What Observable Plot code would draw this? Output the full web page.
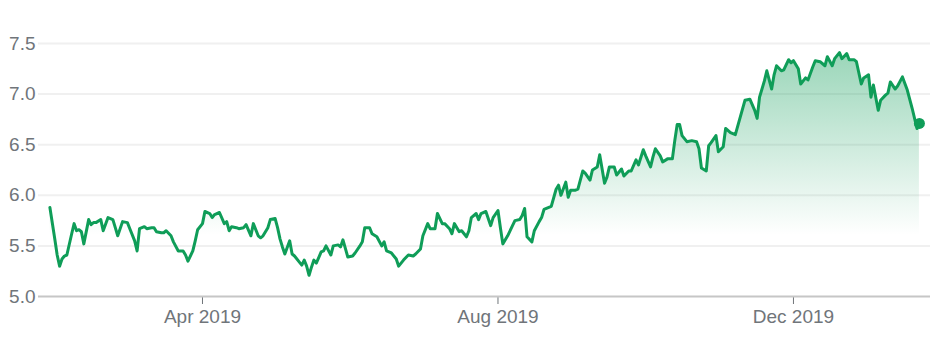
<!DOCTYPE html>
<html>
<head>
<meta charset="utf-8">
<script src="https://cdn.jsdelivr.net/npm/d3@7"></script>
<script src="https://cdn.jsdelivr.net/npm/@observablehq/plot@0.6"></script>
<style>
  html, body { margin: 0; padding: 0; background: #ffffff; }
  #chart svg { display: block; }
</style>
</head>
<body>
<div id="chart"></div>
<script>
// Trading dates
const dates = [
  "2019-01-28","2019-01-30","2019-01-31","2019-02-01","2019-02-02","2019-02-03","2019-02-04","2019-02-06","2019-02-07","2019-02-08",
  "2019-02-09","2019-02-10","2019-02-11","2019-02-13","2019-02-14","2019-02-15","2019-02-16","2019-02-18","2019-02-19","2019-02-21",
  "2019-02-23","2019-02-24","2019-02-25","2019-02-27","2019-03-01","2019-03-02","2019-03-04","2019-03-05","2019-03-06","2019-03-08",
  "2019-03-09","2019-03-11","2019-03-12","2019-03-13","2019-03-15","2019-03-16","2019-03-17","2019-03-19","2019-03-20","2019-03-22",
  "2019-03-24","2019-03-25","2019-03-26","2019-03-28","2019-03-29","2019-03-30","2019-04-01","2019-04-02","2019-04-04","2019-04-05",
  "2019-04-06","2019-04-08","2019-04-10","2019-04-11","2019-04-12","2019-04-13","2019-04-15","2019-04-16","2019-04-18","2019-04-19",
  "2019-04-21","2019-04-22","2019-04-24","2019-04-25","2019-04-26","2019-04-28","2019-04-29","2019-05-01","2019-05-02","2019-05-03",
  "2019-05-04","2019-05-05","2019-05-07","2019-05-08","2019-05-09","2019-05-11","2019-05-12","2019-05-13","2019-05-14","2019-05-15",
  "2019-05-16","2019-05-17","2019-05-18","2019-05-20","2019-05-21","2019-05-22","2019-05-24","2019-05-25","2019-05-27","2019-05-28",
  "2019-05-29","2019-05-31","2019-06-02","2019-06-03","2019-06-05","2019-06-06","2019-06-07","2019-06-09","2019-06-10","2019-06-12",
  "2019-06-14","2019-06-15","2019-06-16","2019-06-18","2019-06-20","2019-06-21","2019-06-23","2019-06-25","2019-06-27","2019-06-28",
  "2019-06-30","2019-07-01","2019-07-03","2019-07-04","2019-07-06","2019-07-07","2019-07-09","2019-07-10","2019-07-12","2019-07-13",
  "2019-07-14","2019-07-16","2019-07-17","2019-07-19","2019-07-20","2019-07-21","2019-07-23","2019-07-24","2019-07-25","2019-07-27",
  "2019-07-29","2019-07-30","2019-08-01","2019-08-02","2019-08-03","2019-08-05","2019-08-07","2019-08-08","2019-08-10","2019-08-11",
  "2019-08-12","2019-08-13","2019-08-15","2019-08-16","2019-08-18","2019-08-19","2019-08-20","2019-08-22","2019-08-23","2019-08-25",
  "2019-08-26","2019-08-27","2019-08-29","2019-08-30","2019-08-31","2019-09-02","2019-09-03","2019-09-05","2019-09-06","2019-09-08",
  "2019-09-09","2019-09-11","2019-09-12","2019-09-14","2019-09-15","2019-09-16","2019-09-18","2019-09-19","2019-09-21","2019-09-22",
  "2019-09-24","2019-09-25","2019-09-27","2019-09-28","2019-09-30","2019-10-01","2019-10-03","2019-10-04","2019-10-05","2019-10-07",
  "2019-10-08","2019-10-10","2019-10-12","2019-10-13","2019-10-14","2019-10-15","2019-10-16","2019-10-18","2019-10-20","2019-10-22",
  "2019-10-23","2019-10-24","2019-10-26","2019-10-27","2019-10-28","2019-10-30","2019-10-31","2019-11-02","2019-11-03","2019-11-05",
  "2019-11-07","2019-11-09","2019-11-11","2019-11-13","2019-11-15","2019-11-16","2019-11-17","2019-11-19","2019-11-20","2019-11-22",
  "2019-11-23","2019-11-24","2019-11-26","2019-11-27","2019-11-29","2019-11-30","2019-12-01","2019-12-03","2019-12-04","2019-12-06",
  "2019-12-07","2019-12-09","2019-12-10","2019-12-12","2019-12-14","2019-12-15","2019-12-17","2019-12-18","2019-12-20","2019-12-21",
  "2019-12-23","2019-12-24","2019-12-26","2019-12-27","2019-12-29","2019-12-30","2020-01-01","2020-01-02","2020-01-03","2020-01-05",
  "2020-01-06","2020-01-08","2020-01-09","2020-01-10","2020-01-12","2020-01-13","2020-01-15","2020-01-17","2020-01-19","2020-01-21",
  "2020-01-22"
];
// Prices
const values = [
  5.88,5.57,5.41,5.30,5.37,5.40,5.41,5.62,5.72,5.65,
  5.66,5.64,5.52,5.76,5.71,5.73,5.73,5.76,5.65,5.78,
  5.76,5.68,5.60,5.74,5.73,5.67,5.55,5.45,5.67,5.69,
  5.67,5.68,5.68,5.64,5.63,5.63,5.65,5.60,5.54,5.45,
  5.45,5.41,5.35,5.45,5.55,5.66,5.72,5.84,5.82,5.78,
  5.81,5.83,5.72,5.74,5.65,5.69,5.68,5.67,5.68,5.71,
  5.60,5.72,5.60,5.58,5.60,5.68,5.76,5.77,5.68,5.57,
  5.49,5.42,5.55,5.42,5.40,5.34,5.31,5.36,5.30,5.21,
  5.29,5.36,5.33,5.44,5.45,5.50,5.41,5.50,5.51,5.49,
  5.56,5.39,5.40,5.43,5.50,5.54,5.68,5.68,5.62,5.59,
  5.50,5.54,5.45,5.43,5.37,5.30,5.36,5.41,5.40,5.42,
  5.47,5.60,5.72,5.67,5.67,5.82,5.72,5.72,5.67,5.62,
  5.72,5.64,5.65,5.59,5.65,5.78,5.82,5.76,5.82,5.84,
  5.70,5.78,5.85,5.68,5.52,5.60,5.70,5.75,5.76,5.80,
  5.87,5.59,5.54,5.65,5.74,5.78,5.86,5.88,5.89,6.06,
  6.10,6.00,6.13,5.98,6.05,6.05,6.06,6.24,6.22,6.15,
  6.25,6.28,6.40,6.12,6.18,6.28,6.28,6.20,6.26,6.19,
  6.24,6.24,6.35,6.30,6.45,6.39,6.28,6.38,6.46,6.39,
  6.33,6.36,6.36,6.54,6.70,6.70,6.59,6.53,6.54,6.53,
  6.46,6.27,6.24,6.49,6.52,6.59,6.43,6.48,6.66,6.62,
  6.60,6.77,6.94,6.95,6.84,6.76,6.97,7.13,7.23,7.05,
  7.19,7.28,7.23,7.24,7.34,7.31,7.33,7.25,7.10,7.16,
  7.14,7.27,7.33,7.32,7.28,7.37,7.28,7.35,7.41,7.35,
  7.40,7.34,7.34,7.32,7.10,7.16,7.19,6.97,7.09,6.84,
  6.94,6.99,7.01,7.12,7.05,7.08,7.17,7.04,6.86,6.66,
  6.71
];
const yTicks = [5.0, 5.5, 6.0, 6.5, 7.0, 7.5];
const xTicks = ["2019-04-01", "2019-08-01", "2019-12-01"];
const xDomain = ["2019-01-23T07:00", "2020-01-26T14:00"];

const parse = s => new Date(s.length > 10 ? s + ":00Z" : s + "T00:00:00Z");
const data = dates.map((d, i) => ({date: parse(d), value: values[i]}));
const fmtMonth = d3.utcFormat("%b %Y");
const green = "#0f9d58";

const svg = Plot.plot({
  width: 939,
  height: 352,
  marginLeft: 38,
  marginRight: 9,
  marginTop: 43,
  marginBottom: 56,
  style: {
    fontFamily: "Arial, 'Liberation Sans', sans-serif",
    fontSize: "19px",
    color: "#70757a",
    background: "#ffffff"
  },
  x: {
    type: "utc",
    domain: xDomain.map(parse),
    ticks: xTicks.map(parse),
    tickFormat: d => fmtMonth(d),
    tickSize: 8,
    tickPadding: 5,
    label: null
  },
  y: {
    domain: [yTicks[0], yTicks[yTicks.length - 1]],
    ticks: yTicks,
    tickFormat: d3.format(".1f"),
    tickSize: 0,
    tickPadding: 3,
    label: null
  },
  marks: [
    Plot.ruleY(yTicks.slice(1), {stroke: "#f0f0f0", strokeWidth: 2}),
    Plot.areaY(data, {x: "date", y1: yTicks[0], y2: "value", fill: "url(#areaFade)"}),
    Plot.ruleY([yTicks[0]], {stroke: "#c6c6c6", strokeWidth: 2}),
    Plot.lineY(data, {x: "date", y: "value", stroke: green, strokeWidth: 3, strokeLinejoin: "round"}),
    Plot.dot(data.slice(-1), {x: "date", y: "value", r: 5.5, fill: green, stroke: "none"})
  ]
});

const ns = "http://www.w3.org/2000/svg";
const defs = document.createElementNS(ns, "defs");
defs.innerHTML =
  '<linearGradient id="areaFade" x1="0" y1="0" x2="0" y2="1">' +
  '<stop offset="0" stop-color="' + green + '" stop-opacity="0.42"/>' +
  '<stop offset="0.75" stop-color="' + green + '" stop-opacity="0"/>' +
  '</linearGradient>';
svg.insertBefore(defs, svg.firstChild);
document.getElementById("chart").appendChild(svg);
</script>
</body>
</html>
